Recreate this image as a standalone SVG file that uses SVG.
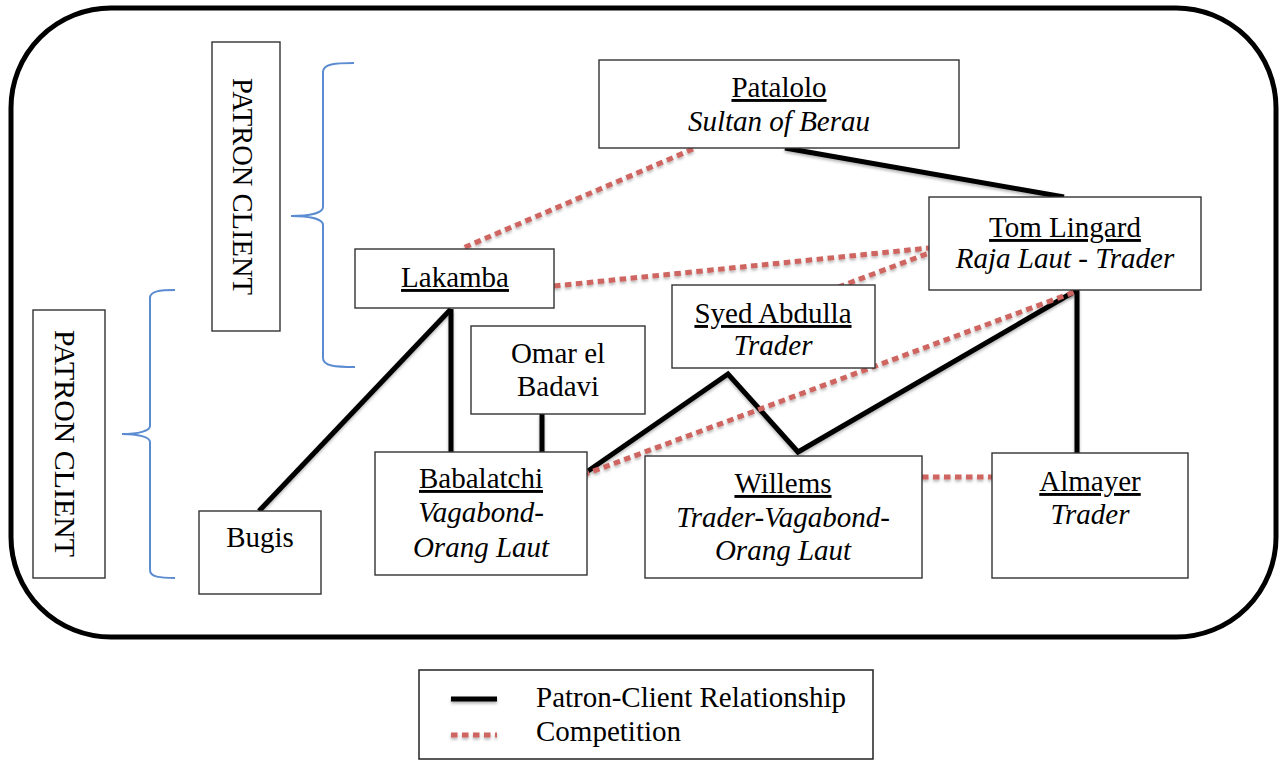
<svg xmlns="http://www.w3.org/2000/svg" width="1283" height="760" viewBox="0 0 1283 760">
<defs>
<filter id="sh" filterUnits="userSpaceOnUse" x="0" y="0" width="1283" height="760">
<feDropShadow dx="0" dy="2" stdDeviation="1.5" flood-color="#000" flood-opacity="0.3"/>
</filter>
</defs>
<style>
.box{fill:#fff;stroke:#333;stroke-width:1.4}
.t{font-family:"Liberation Serif","Times New Roman",serif;font-size:29px;fill:#000;text-anchor:middle}
.u{text-decoration:underline}
.i{font-style:italic}
.pc{stroke:#000;stroke-width:5;fill:none;stroke-linejoin:miter}
.cp{stroke:#cf6560;stroke-width:5;fill:none;stroke-dasharray:6.5 4.5}
.br{stroke:#5b8bd0;stroke-width:2;fill:none}
</style>
<rect x="0" y="0" width="1283" height="760" fill="#fff"/>
<rect id="frame" x="11" y="8" width="1265" height="629" rx="100" ry="100" fill="none" stroke="#000" stroke-width="5"/>

<g id="label-top">
<rect class="box" x="212" y="42" width="68" height="289"/>
<text class="t" transform="translate(233,186.5) rotate(90)" x="0" y="0" textLength="217" lengthAdjust="spacingAndGlyphs">PATRON CLIENT</text>
</g>
<g id="label-bottom">
<rect class="box" x="33" y="310" width="72" height="268"/>
<text class="t" transform="translate(55,443.5) rotate(90)" x="0" y="0" textLength="227" lengthAdjust="spacingAndGlyphs">PATRON CLIENT</text>
</g>
<g id="braces">
<path class="br" d="M354,63 C335,63 323,64 323,72 L323,207 C323,213 310,216 291,216 C310,216 323,219 323,225 L323,358 C323,366 335,367 355,367"/>
<path class="br" d="M175,290 C160,290 150,291 150,298 L150,426 C150,431 138,434 122,434 C138,434 150,437 150,442 L150,570 C150,577 160,578 175,578"/>
</g>

<g id="connectors">
<g filter="url(#sh)">
<line class="pc" x1="785" y1="148" x2="1064" y2="197"/>
<line class="pc" x1="451" y1="309" x2="259" y2="511"/>
<line class="pc" x1="451" y1="309" x2="451" y2="452"/>
<line class="pc" x1="542" y1="414" x2="542" y2="452"/>
<line class="pc" x1="1077" y1="290" x2="1077" y2="453"/>
<polyline class="pc" points="588,471 728,374 798,452 1077,290"/>
</g>
<g filter="url(#sh)">
<line class="cp" x1="693" y1="149" x2="463" y2="248"/>
<line class="cp" x1="554" y1="286" x2="929" y2="248"/>
<line class="cp" x1="828" y1="291" x2="929" y2="253"/>
<line class="cp" x1="583" y1="475" x2="1077" y2="291"/>
<line class="cp" x1="922" y1="477" x2="992" y2="477"/>
</g>
</g>

<g id="patalolo">
<rect class="box" x="599" y="60" width="360" height="88"/>
<text class="t u" x="779" y="97">Patalolo</text>
<text class="t i" x="779" y="131">Sultan of Berau</text>
</g>
<g id="tom-lingard">
<rect class="box" x="929" y="197" width="272" height="93"/>
<text class="t u" x="1065" y="237">Tom Lingard</text>
<text class="t i" x="1065" y="268">Raja Laut - Trader</text>
</g>
<g id="lakamba">
<rect class="box" x="355" y="249" width="199" height="59"/>
<text class="t u" x="455" y="287">Lakamba</text>
</g>
<g id="syed-abdulla">
<rect class="box" x="672" y="285" width="203" height="83"/>
<text class="t u" x="773" y="323">Syed Abdulla</text>
<text class="t i" x="773" y="355">Trader</text>
</g>
<g id="omar">
<rect class="box" x="471" y="326" width="174" height="88"/>
<text class="t" x="558" y="363">Omar el</text>
<text class="t" x="558" y="396">Badavi</text>
</g>
<g id="babalatchi">
<rect class="box" x="375" y="452" width="212" height="123"/>
<text class="t u" x="481" y="488">Babalatchi</text>
<text class="t i" x="481" y="522">Vagabond-</text>
<text class="t i" x="481" y="557">Orang Laut</text>
</g>
<g id="willems">
<rect class="box" x="645" y="456" width="277" height="122"/>
<text class="t u" x="783" y="493">Willems</text>
<text class="t i" x="783" y="527">Trader-Vagabond-</text>
<text class="t i" x="783" y="560">Orang Laut</text>
</g>
<g id="almayer">
<rect class="box" x="992" y="453" width="196" height="125"/>
<text class="t u" x="1090" y="491">Almayer</text>
<text class="t i" x="1090" y="524">Trader</text>
</g>
<g id="bugis">
<rect class="box" x="199" y="511" width="122" height="83"/>
<text class="t" x="260" y="547">Bugis</text>
</g>

<g id="legend">
<rect x="419" y="670" width="454" height="89" fill="#fff" stroke="#222" stroke-width="1.5"/>
<g filter="url(#sh)">
<line class="pc" x1="451" y1="699" x2="497" y2="699"/>
<line class="cp" x1="451" y1="735" x2="497" y2="735"/>
</g>
<text class="t" x="536" y="707" style="text-anchor:start">Patron-Client Relationship</text>
<text class="t" x="536" y="741" style="text-anchor:start">Competition</text>
</g>
</svg>
